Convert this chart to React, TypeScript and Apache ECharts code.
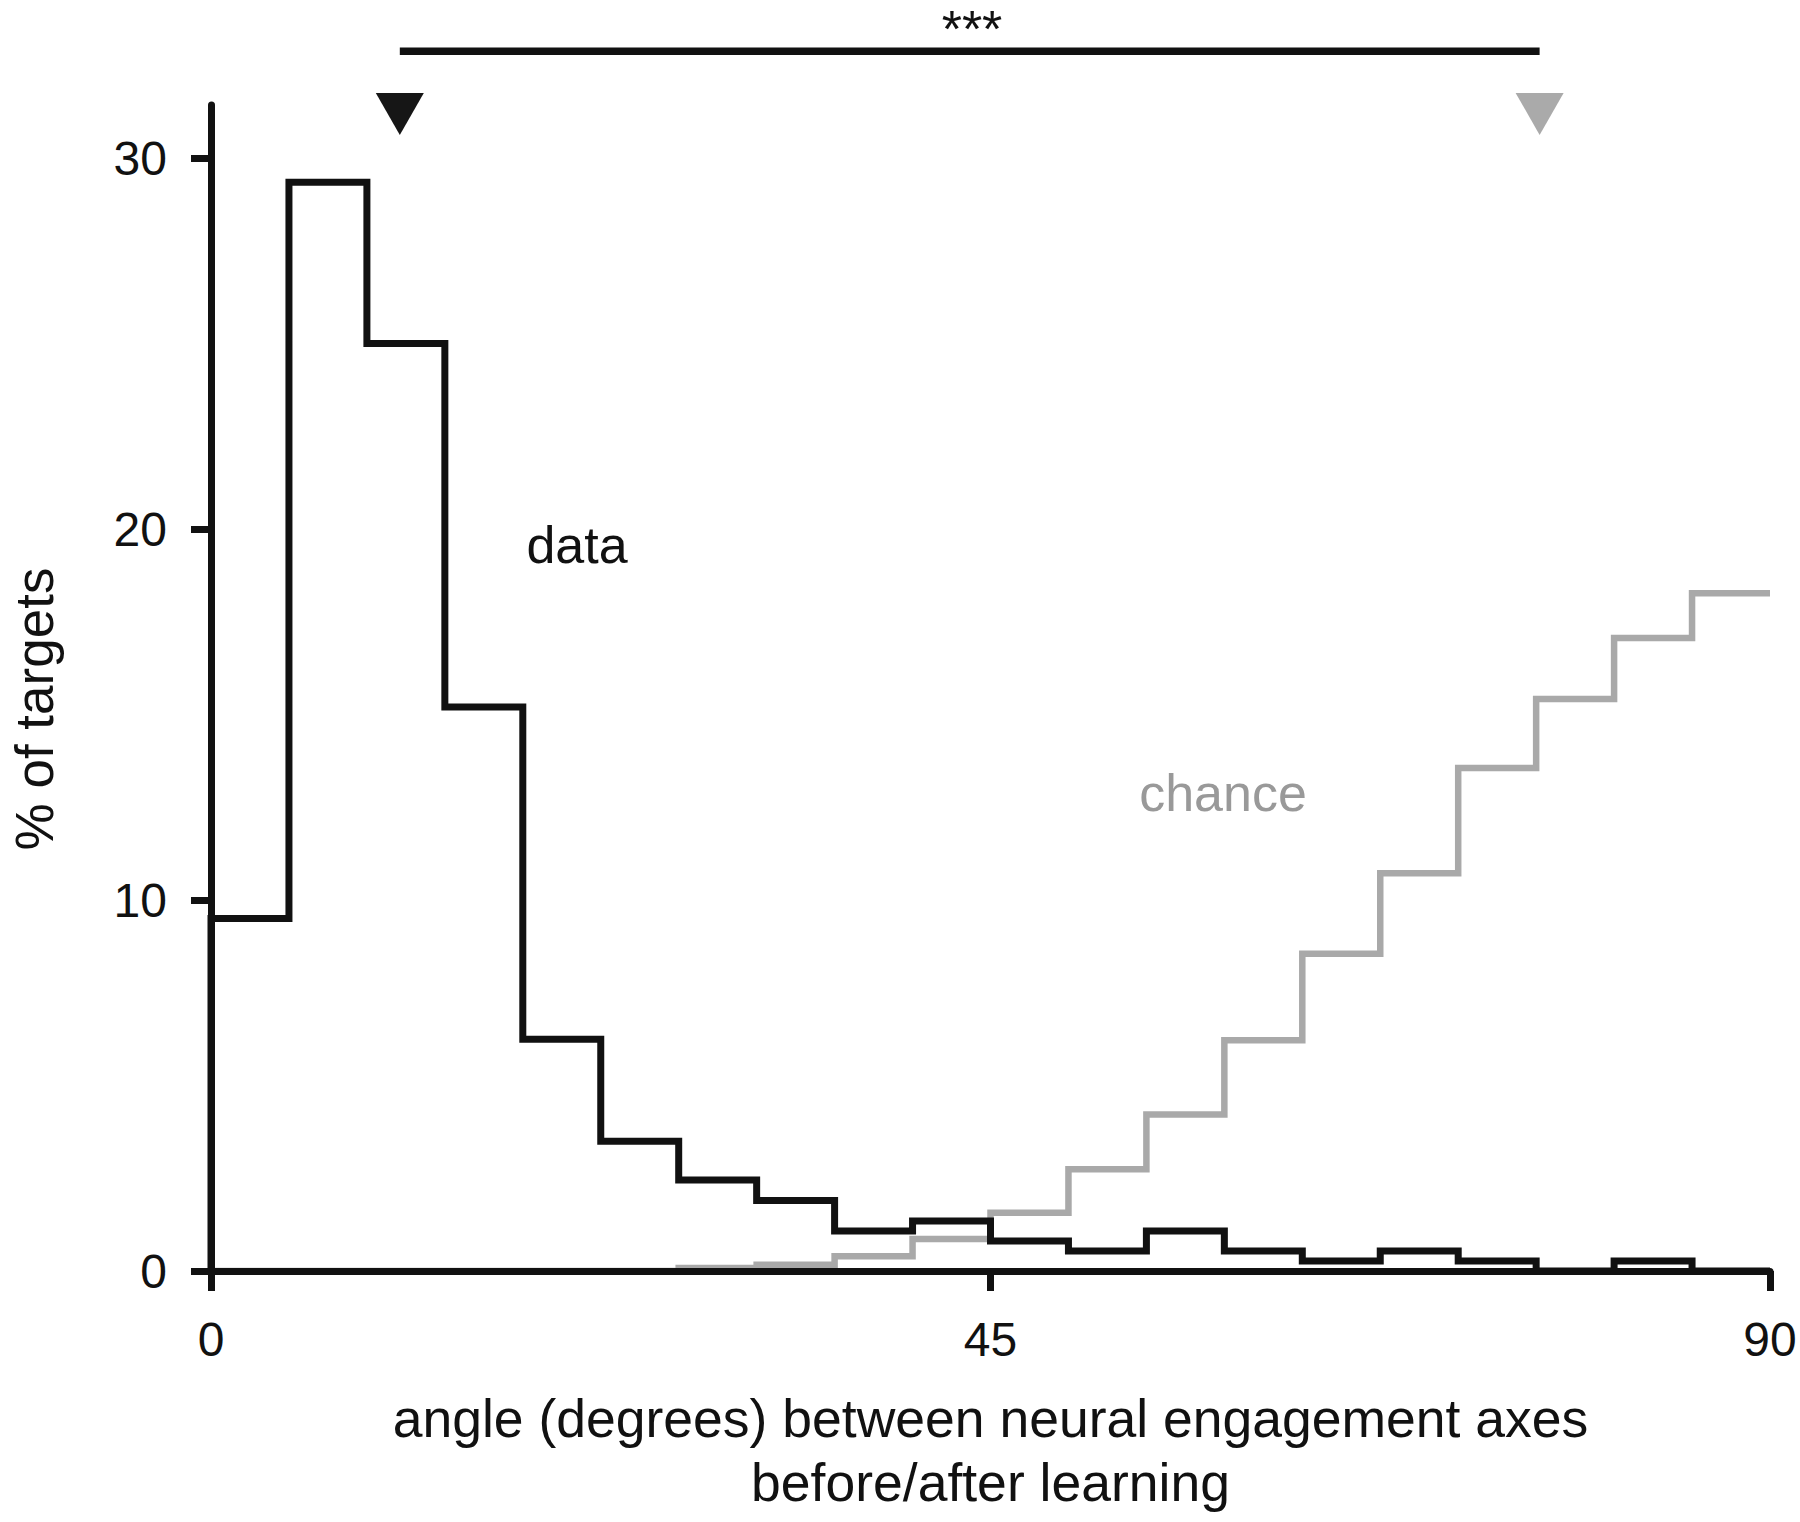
import React, { useEffect, useRef } from "react";
import * as echarts from "echarts";

// histogram bins: 20 bins of 4.5 degrees from 0 to 90
const binWidth = 4.5;
const binCount = 20;
const binStarts = Array.from({ length: binCount }, (_, i) => i * binWidth);

// % of targets per bin
const dataPct = [9.5, 29.35, 25.0, 15.2, 6.25, 3.5, 2.45, 1.9, 1.08, 1.35, 0.81, 0.54, 1.08, 0.54, 0.27, 0.54, 0.27, 0, 0.27, 0];
const chancePct = [0, 0, 0, 0, 0, 0, 0.08, 0.17, 0.4, 0.86, 1.57, 2.74, 4.22, 6.22, 8.55, 10.72, 13.56, 15.42, 17.06, 18.27];

// mean markers (triangles) and significance bar
const dataMean = 10.9;
const chanceMean = 76.7;
const sigLabel = "***";

const xTicks = [0, 45, 90];
const yTicks = [0, 10, 20, 30];

const FONT = "'Liberation Sans', Arial, Helvetica, sans-serif";
const BLACK = "#111111";
const GRAY = "#a9a9a9";

function stepPoints(vals: number[]) {
  const pts: number[][] = [[0, 0]];
  vals.forEach((v, i) => pts.push([binStarts[i], v]));
  pts.push([binStarts[binCount - 1] + binWidth, vals[binCount - 1]]);
  return pts;
}

export default function App() {
  const ref = useRef<HTMLDivElement>(null);
  useEffect(() => {
    if (!ref.current) return;
    const chart = echarts.init(ref.current, undefined, { renderer: "svg" });
    const yMax = 31.43;
    const triY = 31.19;
    const barY = 32.88;
    chart.setOption({
      animation: false,
      backgroundColor: "#ffffff",
      grid: { left: 208, right: 30, top: 105, bottom: 251, containLabel: false },
      xAxis: {
        type: "value",
        min: 0,
        max: 90,
        interval: 45,
        z: 3,
        axisLine: { show: true, lineStyle: { color: BLACK, width: 7 } },
        axisTick: { show: true, length: 20, inside: false, lineStyle: { color: BLACK, width: 7 }, customValues: xTicks },
        axisLabel: { show: true, margin: 44, fontSize: 48, color: BLACK, fontFamily: FONT, customValues: xTicks },
        splitLine: { show: false },
        name: "angle (degrees) between neural engagement axes\nbefore/after learning",
        nameLocation: "middle",
        nameGap: 115,
        nameTextStyle: { fontSize: 53.5, color: BLACK, fontFamily: FONT, lineHeight: 64 },
      },
      yAxis: {
        type: "value",
        min: 0,
        max: yMax,
        z: 3,
        axisLine: { show: true, lineStyle: { color: BLACK, width: 7 } },
        axisTick: { show: true, length: 20, inside: false, lineStyle: { color: BLACK, width: 7 }, customValues: yTicks },
        axisLabel: { show: true, margin: 44, fontSize: 48, color: BLACK, fontFamily: FONT, customValues: yTicks },
        splitLine: { show: false },
        name: "% of targets",
        nameLocation: "middle",
        nameRotate: 90,
        nameGap: 150,
        nameTextStyle: { fontSize: 53, color: BLACK, fontFamily: FONT, padding: [0, 42, 0, 0] },
      },
      series: [
        {
          name: "chance",
          type: "line",
          step: "end",
          data: stepPoints(chancePct),
          symbol: "none",
          clip: false,
          z: 2,
          lineStyle: { color: GRAY, width: 6.5, join: "miter", cap: "butt" },
        },
        {
          name: "data",
          type: "line",
          step: "end",
          data: stepPoints(dataPct),
          symbol: "none",
          clip: false,
          z: 2,
          lineStyle: { color: BLACK, width: 7, join: "miter", cap: "butt" },
        },
        {
          name: "significance",
          type: "line",
          data: [[dataMean, barY], [chanceMean, barY]],
          symbol: "none",
          clip: false,
          lineStyle: { color: BLACK, width: 7.5, cap: "butt" },
        },
        {
          name: "means",
          type: "scatter",
          clip: false,
          symbol: "triangle",
          symbolRotate: 180,
          symbolSize: [48, 42],
          itemStyle: { opacity: 1 },
          data: [
            { value: [dataMean, triY], itemStyle: { color: "#161616", opacity: 1 } },
            { value: [chanceMean, triY], itemStyle: { color: "#aaaaaa", opacity: 1 } },
          ],
        },
      ],
      graphic: [
        {
          type: "text",
          x: 577,
          y: 545,
          style: { text: "data", fill: BLACK, font: `52px ${FONT}`, textAlign: "center", textVerticalAlign: "middle" },
        },
        {
          type: "text",
          x: 1223,
          y: 793,
          style: { text: "chance", fill: "#999999", font: `52px ${FONT}`, textAlign: "center", textVerticalAlign: "middle" },
        },
        {
          type: "text",
          x: 972,
          y: 29,
          style: { text: sigLabel, fill: BLACK, font: `52px ${FONT}`, textAlign: "center", textVerticalAlign: "middle" },
        },
      ],
    });
    return () => chart.dispose();
  }, []);
  return (
    <div
      ref={ref}
      style={{ position: "absolute", left: 0, top: 0, width: 1800, height: 1522, background: "#fff" }}
    />
  );
}
